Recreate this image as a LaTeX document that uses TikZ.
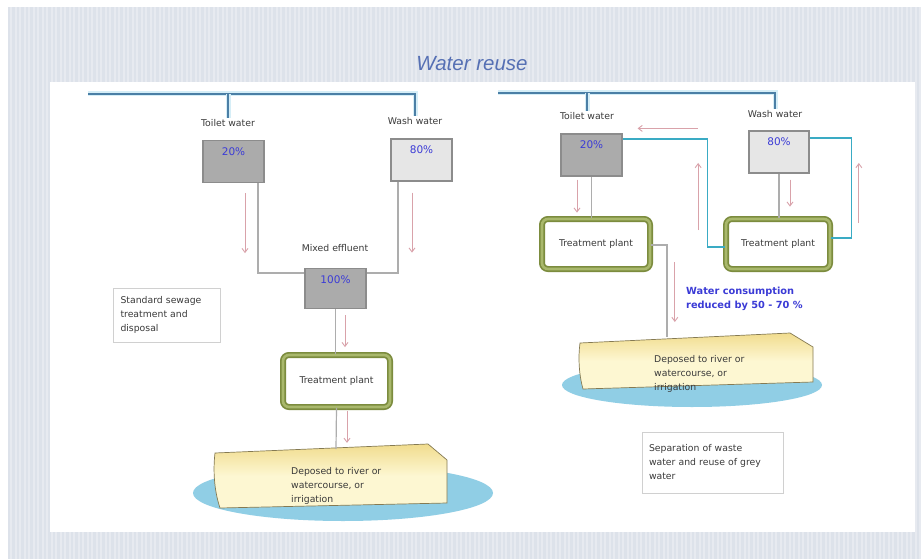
\documentclass[tikz,border=0pt]{standalone}
\usepackage{fontspec}
\setmainfont{DejaVu Sans}
\newfontfamily\titlefont{Liberation Sans}
\usetikzlibrary{arrows.meta}
\definecolor{bgstripe}{HTML}{DDE2EA}
\definecolor{bglight}{HTML}{E7EAF0}
\definecolor{titleblue}{HTML}{5670B4}
\definecolor{mainblue}{HTML}{4B7FA6}
\definecolor{glowblue}{HTML}{D6EEF7}
\definecolor{reuseteal}{HTML}{3AABC4}
\definecolor{pipegray}{HTML}{ADADAD}
\definecolor{flowpink}{HTML}{D9A2AA}
\definecolor{tankdark}{HTML}{ABABAB}
\definecolor{tanklight}{HTML}{E6E6E6}
\definecolor{tankedge}{HTML}{8C8C8C}
\definecolor{pctblue}{HTML}{3B3BD6}
\definecolor{plantdark}{HTML}{7C8C3E}
\definecolor{plantlight}{HTML}{A9B86C}
\definecolor{sandtop}{HTML}{F1DC8E}
\definecolor{sandlow}{HTML}{FDF7D2}
\definecolor{sandedge}{HTML}{857A52}
\definecolor{pondblue}{HTML}{90CEE5}
\definecolor{notegray}{HTML}{D0D0D0}
\definecolor{inkgray}{HTML}{3A3A3A}
\begin{document}
\begin{tikzpicture}[x=1pt, y=-1pt,
    lbl/.style={font=\fontsize{9.3}{14}\selectfont, text=inkgray, inner sep=1},
    tank/.style={draw=tankedge, line width=1.2pt, minimum width=61, minimum height=42, inner sep=0},
    pct/.style={anchor=north, yshift=-4, text=pctblue, font=\fontsize{10.5}{12}\selectfont},
    plant/.style={draw=plantdark, line width=1.7pt, double=plantlight, double distance=2.6pt,
      rounded corners=6, fill=white, minimum height=50, lbl},
    note/.style={draw=notegray, line width=0.6pt, align=left, lbl},
    sand/.style={draw=sandedge, line width=0.7pt, top color=sandtop, bottom color=sandlow, middle color=sandlow},
    mains/.style={draw=mainblue, line width=1.8pt, preaction={draw=glowblue, line width=5pt}},
    reuse/.style={draw=reuseteal, line width=1.5pt},
    pipe/.style={draw=pipegray, line width=1.2pt},
    flow/.style={draw=flowpink, line width=0.9pt, -{Straight Barb[length=4pt, width=6pt]}}]
  \useasboundingbox (0,0) rectangle (921,559);
  % background
  \fill[bgstripe] (8,7) rectangle (921,559);
  \foreach \x in {10,14.5,...,921} \fill[bglight] (\x,7) rectangle ++(2,552);
  \fill[white] (50,82) rectangle (915,532);
  \node[font=\titlefont\itshape\fontsize{20.5}{22}\selectfont, text=titleblue] (title) at (472,64) {Water reuse};

  % left: standard sewage
  \node[lbl] (tlL) at (228,123) {Toilet water};
  \node[lbl] (wlL) at (415,121) {Wash water};
  \coordinate (mainL) at (88,94);
  \draw[mains] (mainL) -| (wlL.north);
  \draw[mains] (tlL.north |- mainL) -- (tlL.north);
  \node[tank, fill=tankdark, label={[pct]north:20\%}] (t20L) at (233.5,161.5) {};
  \node[tank, fill=tanklight, label={[pct]north:80\%}] (w80L) at (421.5,160) {};
  \node[lbl] (mixlbl) at (335,248) {Mixed effluent};
  \node[tank, fill=tankdark, minimum height=40, label={[pct]north:100\%}] (mixL) at (335.5,288.5) {};
  \node[plant, minimum width=107, minimum height=52] (plantL) at (336.5,381) {Treatment plant};
  \node[note, minimum width=107, minimum height=54, text width=92] (stdL) at (166.5,315)
    {Standard sewage\\treatment and\\disposal};
  \fill[pondblue] (343,493) ellipse [x radius=150, y radius=28];
  \draw[sand] (215,453) -- (428,444) -- (447,460) -- (447,503) -- (220,508)
    .. controls (214,490) and (213,470) .. (215,453) -- cycle;
  \coordinate (sandL) at (336,449);
  \node[lbl, align=left, anchor=west] (dispL) at (290,486) {Deposed to river or\\watercourse, or\\irrigation};
  \draw[pipe] ([xshift=24.5]t20L.south) |- ([yshift=15.5]mixL.west);
  \draw[pipe] ([xshift=-23.5]w80L.south) |- ([yshift=15.5]mixL.east);
  \draw[pipe] (mixL.south) -- (mixL.south |- plantL.north);
  \draw[pipe] (plantL.south) -- (sandL);
  \draw[flow] ([xshift=11.5,yshift=-10]t20L.south) -- ++(0,60);
  \draw[flow] ([xshift=-9.5,yshift=-11]w80L.south) -- ++(0,60);
  \draw[flow] ([xshift=9.5,yshift=-6]mixL.south) -- ++(0,32);
  \draw[flow] ([xshift=10.5,yshift=-3]plantL.south) -- ++(0,32);

  % right: separation and reuse
  \node[lbl] (tlR) at (587,116) {Toilet water};
  \node[lbl] (wlR) at (775,114) {Wash water};
  \coordinate (mainR) at (498,93);
  \draw[mains] (mainR) -| (wlR.north);
  \draw[mains] (tlR.north |- mainR) -- (tlR.north);
  \node[tank, fill=tankdark, label={[pct]north:20\%}] (t20R) at (591.5,155) {};
  \node[tank, fill=tanklight, minimum width=60, label={[pct]north:80\%}] (w80R) at (779,152) {};
  \node[plant, minimum width=108] (plantR1) at (596,244) {Treatment plant};
  \node[plant, minimum width=104] (plantR2) at (778,244) {Treatment plant};
  \draw[pipe] (t20R.south) -- (t20R.south |- plantR1.north);
  \draw[pipe] (w80R.south) -- (w80R.south |- plantR2.north);
  \draw[reuse] ([yshift=16]t20R.east) -- ++(85,0) |- ([yshift=-3]plantR2.west);
  \draw[reuse] ([yshift=14]w80R.east) -- ++(42,0) |- ([yshift=6]plantR2.east);
  \draw[flow] ([xshift=75,yshift=5]t20R.north east) -- ++(-60,0);
  \draw[flow] ([xshift=-27,yshift=14]plantR2.west) -- ++(0,-67);
  \draw[flow] ([xshift=28,yshift=21]plantR2.east) -- ++(0,-60);
  \draw[flow] ([xshift=-14.5,yshift=-3]t20R.south) -- ++(0,33);
  \draw[flow] ([xshift=11,yshift=-6]w80R.south) -- ++(0,27);
  \fill[pondblue] (692,385) ellipse [x radius=130, y radius=22];
  \draw[sand] (580,343) -- (790,333) -- (813,347) -- (813,382) -- (583,389)
    .. controls (579,375) and (578,358) .. (580,343) -- cycle;
  \coordinate (sandR) at (667,337);
  \node[lbl, align=left, anchor=west] (dispR) at (653,374) {Deposed to river or\\watercourse, or\\irrigation};
  \draw[pipe] ([yshift=-1]plantR1.east) -| (sandR);
  \draw[flow] ([xshift=24,yshift=-18]plantR1.east) -- ++(0,60);
  \node[anchor=west, align=left, text=pctblue, font=\bfseries\fontsize{9.8}{14}\selectfont, inner sep=1]
    (saveR) at (685,299) {Water consumption\\reduced by 50 - 70 \%};
  \node[note, minimum width=141, minimum height=61, text width=127] (sepR) at (712.5,462.5)
    {Separation of waste\\water and reuse of grey\\water};
\end{tikzpicture}
\end{document}
